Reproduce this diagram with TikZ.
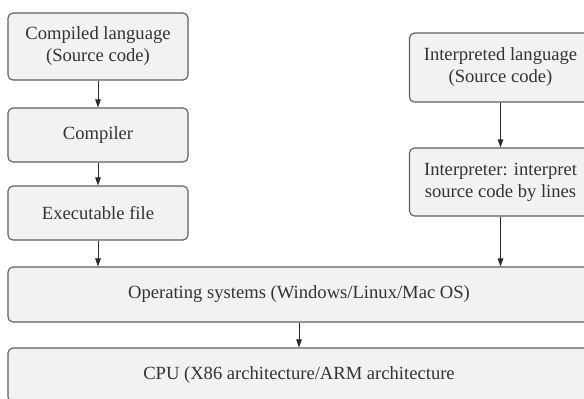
\documentclass[tikz,border=0pt]{standalone}
\usepackage{fontspec}
\setmainfont{Liberation Serif}
\usetikzlibrary{arrows.meta}
\definecolor{boxfill}{HTML}{F2F2F2}
\definecolor{boxline}{HTML}{5E5E5E}
\definecolor{arrline}{HTML}{2A2A2A}
\definecolor{labeltext}{HTML}{333333}

\begin{document}
\begin{tikzpicture}[x=1pt, y=-1pt,
    layer/.style={draw=boxline, fill=boxfill, line width=1.1pt, rounded corners=5pt,
      align=center, inner sep=0pt, text=labeltext,
      font=\fontsize{18.6}{22}\selectfont},
    flow/.style={draw=arrline, line width=0.9pt, -{Triangle[length=8pt,width=5.5pt]}}]
  \useasboundingbox (0,0) rectangle (584,399);
  \clip (0,0) rectangle (584,399);
  \fill[white] (0,0) rectangle (584,399);
  % compiled language
  \node[layer, minimum width=180, minimum height=67] (comp) at (98,46.5)
    {Compiled language\\(Source code)};
  \node[layer, minimum width=180, minimum height=54] (compiler) at (98,135) {Compiler};
  \node[layer, minimum width=180, minimum height=54] (exe) at (98,213) {Executable file};
  % interpreted language
  \node[layer, minimum width=182, minimum height=69] (interp) at (500.5,67.5)
    {Interpreted language\\(Source code)};
  \node[layer, minimum width=182, minimum height=68] (interpreter) at (500.5,182)
    {Interpreter: interpret\\source code by lines};
  % system layers
  \node[layer, minimum width=582, minimum height=55] (os) at (299,294.5)
    {Operating systems (Windows/Linux/Mac OS)};
  \node[layer, minimum width=582, minimum height=54] (cpu) at (299,375)
    {CPU (X86 architecture/ARM architecture};
  \draw[flow] (comp) -- (compiler);
  \draw[flow] (compiler) -- (exe);
  \draw[flow] (exe) -- (exe.south |- os.north);
  \draw[flow] (interp) -- (interpreter);
  \draw[flow] (interpreter) -- (interpreter.south |- os.north);
  \draw[flow] (os) -- (cpu);
\end{tikzpicture}
\end{document}
